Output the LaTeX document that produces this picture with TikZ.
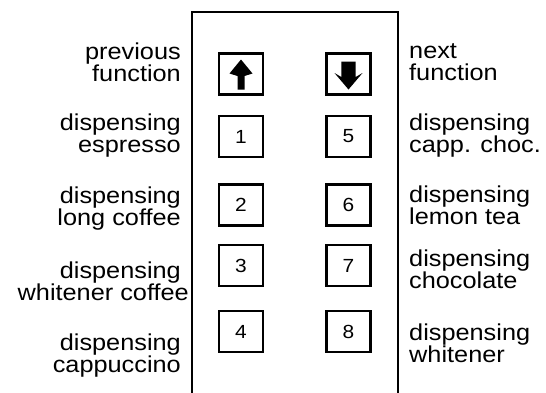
\documentclass[tikz,border=0pt]{standalone}
\usepackage{fontspec}
\setmainfont{Liberation Sans}[FakeStretch=1.1]
\usetikzlibrary{positioning}

\begin{document}
\begin{tikzpicture}[x=1pt,y=-1pt,
    key/.style={draw,line width=2.4pt,minimum width=44pt,minimum height=41pt,
                inner sep=0pt,font=\fontsize{19}{19}\selectfont},
    lab/.style={inner sep=0pt,font=\fontsize{23}{22}\selectfont},
    labl/.style={lab,align=right,anchor=base east},
    labr/.style={lab,align=left,anchor=base west}]
  \useasboundingbox (0,0) rectangle (546,392);
  % panel
  \draw[line width=2.4pt] (192,394) -- (192,12) -- (398,12) -- (398,394);

  % keys
  \node[key] (up) at (241,74) {};
  \node[key] (k1) at (241,136.5) {1};
  \node[key] (k2) at (241,205) {2};
  \node[key] (k3) at (241,265.5) {3};
  \node[key] (k4) at (241,331.5) {4};
  \node[key] (down) at (348.5,74) {};
  \node[key] (k5) at (348.5,136.5) {5};
  \node[key] (k6) at (348.5,205) {6};
  \node[key] (k7) at (348.5,265.5) {7};
  \node[key] (k8) at (348.5,331.5) {8};

  % arrows
  \fill[shift={(up.center)}] (0,-14.5) -- (11.5,-0.5) -- (3.5,2) -- (3.5,15.5)
    -- (-3.5,15.5) -- (-3.5,2) -- (-11.5,-0.5) -- cycle;
  \fill[shift={(down.center)}] (0,15.5) -- (14,-1) -- (7.2,3) -- (7.2,-12.5)
    -- (-7.2,-12.5) -- (-7.2,3) -- (-14,-1) -- cycle;

  % labels (base = last line)
  \node[labl] (lprev) at (181,81) {previous\\function};
  \node[labl] (lesp) at (181,152) {dispensing\\espresso};
  \node[labl] (llong) at (181,225) {dispensing\\long coffee};
  \node[labl] (lwhc) at (189,300) {dispensing\rule{8pt}{0pt}\\whitener coffee};
  \node[labl] (lcap) at (181,372) {dispensing\\cappuccino};
  \node[labr] (rnext) at (409,80) {next\\function};
  \node[labr] (rcc) at (409,152) {dispensing\\capp. choc.};
  \node[labr] (rlem) at (409,224) {dispensing\\lemon tea};
  \node[labr] (rcho) at (409,288) {dispensing\\chocolate};
  \node[labr] (rwh) at (409,362) {dispensing\\whitener};
\end{tikzpicture}
\end{document}
